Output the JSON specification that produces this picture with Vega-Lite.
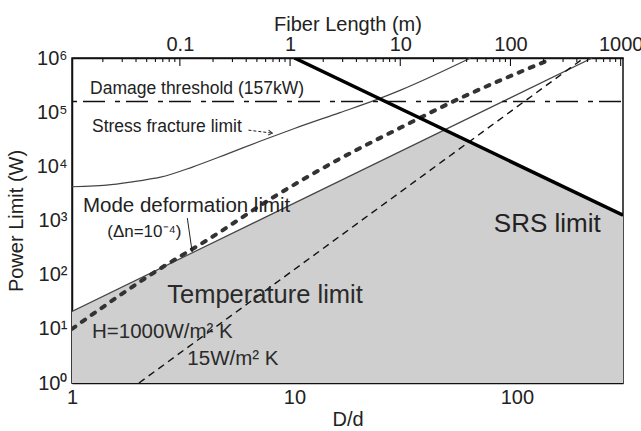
{
  "$schema": "https://vega.github.io/schema/vega-lite/v6.json",
  "width": 551,
  "height": 325,
  "autosize": {"type": "none"},
  "padding": {"left": 72, "top": 58, "right": 18, "bottom": 48},
  "background": "white",
  "config": {
    "font": "Liberation Sans",
    "view": {"stroke": "#111", "strokeWidth": 1.5},
    "axis": {
      "grid": false,
      "ticks": false,
      "tickSize": 0,
      "domainColor": "#111",
      "domainWidth": 1.5,
      "labelFont": "Liberation Sans",
      "labelFontSize": 20,
      "labelColor": "#222",
      "titleFont": "Liberation Sans",
      "titleFontSize": 20,
      "titleFontWeight": "normal",
      "titleColor": "#222",
      "labelFlush": false,
      "labelOverlap": false
    }
  },
  "datasets": {
    "curves": [
      {"s": "shade", "x": 1, "P": 21},
      {"s": "shade", "x": 47.6, "P": 47500},
      {"s": "shade", "x": 300, "P": 1250},
      {"s": "h1000", "x": 1, "P": 21},
      {"s": "h1000", "x": 218, "P": 1000000},
      {"s": "h15", "x": 2, "P": 1},
      {"s": "h15", "x": 200, "P": 1000000},
      {"s": "stress", "x": 1, "P": 4200},
      {"s": "stress", "x": 1.5, "P": 4600},
      {"s": "stress", "x": 2, "P": 5400},
      {"s": "stress", "x": 2.5, "P": 6300},
      {"s": "stress", "x": 3.5, "P": 9800},
      {"s": "stress", "x": 5, "P": 17000},
      {"s": "stress", "x": 7, "P": 29000},
      {"s": "stress", "x": 10, "P": 50000},
      {"s": "stress", "x": 16, "P": 98000},
      {"s": "stress", "x": 23.4, "P": 170000},
      {"s": "stress", "x": 30, "P": 255000},
      {"s": "stress", "x": 62, "P": 1000000},
      {"s": "mode", "x": 1, "P": 10},
      {"s": "mode", "x": 2.51, "P": 132},
      {"s": "mode", "x": 4.17, "P": 468},
      {"s": "mode", "x": 8.04, "P": 2690},
      {"s": "mode", "x": 16.1, "P": 14000},
      {"s": "mode", "x": 30.2, "P": 52500},
      {"s": "mode", "x": 50.1, "P": 148000},
      {"s": "mode", "x": 135, "P": 871000},
      {"s": "damage", "x": 1, "P": 157000},
      {"s": "damage", "x": 300, "P": 157000},
      {"s": "srs", "x": 10, "P": 1000000},
      {"s": "srs", "x": 300, "P": 1250},
      {"s": "arrowS", "x": 6.21, "P": 46600},
      {"s": "arrowS", "x": 7.96, "P": 41000},
      {"s": "arrowM", "x": 3.30, "P": 1107},
      {"s": "arrowM", "x": 3.47, "P": 261}
    ],
    "notes": [
      {"id": "damage", "x": 1.205, "P": 214000, "text": "Damage threshold (157kW)"},
      {"id": "stress", "x": 1.23, "P": 42700, "text": "Stress fracture limit"},
      {"id": "mode", "x": 1.12, "P": 1430, "text": "Mode deformation limit"},
      {"id": "dn", "x": 1.44, "P": 493, "text": "(Δn=10⁻⁴)"},
      {"id": "temp", "x": 2.68, "P": 29.9, "text": "Temperature limit"},
      {"id": "h1000", "x": 1.23, "P": 6.76, "text": "H=1000W/m² K"},
      {"id": "h15", "x": 3.3, "P": 2.15, "text": "15W/m² K"},
      {"id": "srs", "x": 78.8, "P": 614, "text": "SRS limit"}
    ],
    "tips": [
      {"id": "S", "x": 7.96, "P": 41000},
      {"id": "M", "x": 3.47, "P": 261}
    ],
    "xMinor": [{"x": 2}, {"x": 3}, {"x": 4}, {"x": 5}, {"x": 6}, {"x": 7}, {"x": 8}, {"x": 9}, {"x": 20}, {"x": 30}, {"x": 40}, {"x": 50}, {"x": 60}, {"x": 70}, {"x": 80}, {"x": 90}, {"x": 200}],
    "xMajor": [{"x": 10}, {"x": 100}],
    "pMinor": [{"P": 2}, {"P": 3}, {"P": 4}, {"P": 5}, {"P": 6}, {"P": 7}, {"P": 8}, {"P": 9}, {"P": 20}, {"P": 30}, {"P": 40}, {"P": 50}, {"P": 60}, {"P": 70}, {"P": 80}, {"P": 90}, {"P": 200}, {"P": 300}, {"P": 400}, {"P": 500}, {"P": 600}, {"P": 700}, {"P": 800}, {"P": 900}, {"P": 2000}, {"P": 3000}, {"P": 4000}, {"P": 5000}, {"P": 6000}, {"P": 7000}, {"P": 8000}, {"P": 9000}, {"P": 20000}, {"P": 30000}, {"P": 40000}, {"P": 50000}, {"P": 60000}, {"P": 70000}, {"P": 80000}, {"P": 90000}, {"P": 200000}, {"P": 300000}, {"P": 400000}, {"P": 500000}, {"P": 600000}, {"P": 700000}, {"P": 800000}, {"P": 900000}],
    "pMajor": [{"P": 10}, {"P": 100}, {"P": 1000}, {"P": 10000}, {"P": 100000}],
    "lMinor": [{"L": 0.02}, {"L": 0.03}, {"L": 0.04}, {"L": 0.05}, {"L": 0.06}, {"L": 0.07}, {"L": 0.08}, {"L": 0.09}, {"L": 0.2}, {"L": 0.3}, {"L": 0.4}, {"L": 0.5}, {"L": 0.6}, {"L": 0.7}, {"L": 0.8}, {"L": 0.9}, {"L": 2}, {"L": 3}, {"L": 4}, {"L": 5}, {"L": 6}, {"L": 7}, {"L": 8}, {"L": 9}, {"L": 20}, {"L": 30}, {"L": 40}, {"L": 50}, {"L": 60}, {"L": 70}, {"L": 80}, {"L": 90}, {"L": 200}, {"L": 300}, {"L": 400}, {"L": 500}, {"L": 600}, {"L": 700}, {"L": 800}, {"L": 900}],
    "lMajor": [{"L": 0.1}, {"L": 1}, {"L": 10}, {"L": 100}, {"L": 1000}]
  },
  "layer": [
    {
      "encoding": {
        "x": {
          "field": "x", "type": "quantitative",
          "scale": {"type": "log", "domain": [1, 300], "nice": false},
          "axis": {
            "orient": "bottom",
            "title": "D/d",
            "values": [1, 10, 100],
            "format": "~g",
            "labelPadding": 4,
            "titlePadding": 2
          }
        },
        "y": {
          "field": "P", "type": "quantitative",
          "scale": {"type": "log", "domain": [1, 1000000], "nice": false},
          "axis": {
            "orient": "left",
            "title": "Power Limit (W)",
            "values": [1, 10, 100, 1000, 10000, 100000, 1000000],
            "labelExpr": "datum.value == 1 ? '10⁰' : datum.value == 10 ? '10¹' : datum.value == 100 ? '10²' : datum.value == 1000 ? '10³' : datum.value == 10000 ? '10⁴' : datum.value == 100000 ? '10⁵' : '10⁶'",
            "labelPadding": 5,
            "titlePadding": 10
          }
        }
      },
      "layer": [
        {
          "data": {"name": "curves"},
          "transform": [{"filter": "datum.s == 'shade'"}],
          "mark": {"type": "area", "fill": "#cfcfcf", "clip": true},
          "encoding": {"y2": {"datum": 1}}
        },
        {
          "data": {"name": "curves"},
          "transform": [{"filter": "datum.s == 'h1000'"}],
          "mark": {"type": "line", "stroke": "#444", "strokeWidth": 1.2, "clip": true},
          "encoding": {}
        },
        {
          "data": {"name": "curves"},
          "transform": [{"filter": "datum.s == 'h15'"}],
          "mark": {"type": "line", "stroke": "#111", "strokeWidth": 1.4, "strokeDash": [7, 5], "clip": true},
          "encoding": {}
        },
        {
          "data": {"name": "curves"},
          "transform": [{"filter": "datum.s == 'stress'"}],
          "mark": {"type": "line", "stroke": "#444", "strokeWidth": 1.2, "interpolate": "monotone", "clip": true},
          "encoding": {}
        },
        {
          "data": {"name": "curves"},
          "transform": [{"filter": "datum.s == 'mode'"}],
          "mark": {"type": "line", "stroke": "#333", "strokeWidth": 4, "strokeDash": [4, 8], "strokeCap": "round", "interpolate": "monotone", "clip": true},
          "encoding": {}
        },
        {
          "data": {"name": "curves"},
          "transform": [{"filter": "datum.s == 'damage'"}],
          "mark": {"type": "line", "stroke": "#111", "strokeWidth": 1.4, "strokeDash": [5, 6, 22, 10], "clip": true},
          "encoding": {}
        },
        {
          "data": {"name": "curves"},
          "transform": [{"filter": "datum.s == 'srs'"}],
          "mark": {"type": "line", "stroke": "#000", "strokeWidth": 3.5, "clip": true},
          "encoding": {}
        },
        {
          "data": {"name": "curves"},
          "transform": [{"filter": "datum.s == 'arrowS'"}],
          "mark": {"type": "line", "stroke": "#222", "strokeWidth": 1, "strokeDash": [3, 2]},
          "encoding": {}
        },
        {
          "data": {"name": "curves"},
          "transform": [{"filter": "datum.s == 'arrowM'"}],
          "mark": {"type": "line", "stroke": "#222", "strokeWidth": 1},
          "encoding": {}
        },
        {
          "data": {"name": "tips"},
          "transform": [{"filter": "datum.id == 'S'"}],
          "mark": {"type": "point", "shape": "M-1,-0.6L0,0L-1,0.6", "filled": false, "stroke": "#222", "strokeWidth": 1, "size": 70, "angle": 7, "opacity": 1},
          "encoding": {}
        },
        {
          "data": {"name": "tips"},
          "transform": [{"filter": "datum.id == 'M'"}],
          "mark": {"type": "point", "shape": "M0,0L-1,-0.45L-1,0.45Z", "filled": true, "fill": "#222", "size": 70, "angle": 82, "opacity": 1},
          "encoding": {}
        },
        {
          "data": {"name": "notes"},
          "transform": [{"filter": "datum.id == 'damage'"}],
          "mark": {"type": "text", "align": "left", "baseline": "alphabetic", "fontSize": 17.5, "fill": "#222"},
          "encoding": {"text": {"field": "text", "type": "nominal"}}
        },
        {
          "data": {"name": "notes"},
          "transform": [{"filter": "datum.id == 'stress'"}],
          "mark": {"type": "text", "align": "left", "baseline": "alphabetic", "fontSize": 17.5, "fill": "#222"},
          "encoding": {"text": {"field": "text", "type": "nominal"}}
        },
        {
          "data": {"name": "notes"},
          "transform": [{"filter": "datum.id == 'mode'"}],
          "mark": {"type": "text", "align": "left", "baseline": "alphabetic", "fontSize": 20.5, "fill": "#222"},
          "encoding": {"text": {"field": "text", "type": "nominal"}}
        },
        {
          "data": {"name": "notes"},
          "transform": [{"filter": "datum.id == 'dn'"}],
          "mark": {"type": "text", "align": "left", "baseline": "alphabetic", "fontSize": 17, "fill": "#222"},
          "encoding": {"text": {"field": "text", "type": "nominal"}}
        },
        {
          "data": {"name": "notes"},
          "transform": [{"filter": "datum.id == 'temp'"}],
          "mark": {"type": "text", "align": "left", "baseline": "alphabetic", "fontSize": 25.5, "fill": "#2a2a2a"},
          "encoding": {"text": {"field": "text", "type": "nominal"}}
        },
        {
          "data": {"name": "notes"},
          "transform": [{"filter": "datum.id == 'h1000' || datum.id == 'h15'"}],
          "mark": {"type": "text", "align": "left", "baseline": "alphabetic", "fontSize": 20.5, "fill": "#2a2a2a"},
          "encoding": {"text": {"field": "text", "type": "nominal"}}
        },
        {
          "data": {"name": "notes"},
          "transform": [{"filter": "datum.id == 'srs'"}],
          "mark": {"type": "text", "align": "left", "baseline": "alphabetic", "fontSize": 26, "fill": "#222"},
          "encoding": {"text": {"field": "text", "type": "nominal"}}
        },
        {
          "data": {"name": "xMinor"},
          "mark": {"type": "tick", "orient": "vertical", "size": 4, "thickness": 1.1, "color": "#111", "opacity": 1, "yOffset": -2},
          "encoding": {"y": {"datum": 1}}
        },
        {
          "data": {"name": "xMajor"},
          "mark": {"type": "tick", "orient": "vertical", "size": 8, "thickness": 1.1, "color": "#111", "opacity": 1, "yOffset": -4},
          "encoding": {"y": {"datum": 1}}
        },
        {
          "data": {"name": "pMinor"},
          "mark": {"type": "tick", "orient": "horizontal", "size": 4, "thickness": 1.1, "color": "#111", "opacity": 1, "xOffset": 2},
          "encoding": {"x": {"datum": 1}}
        },
        {
          "data": {"name": "pMajor"},
          "mark": {"type": "tick", "orient": "horizontal", "size": 8, "thickness": 1.1, "color": "#111", "opacity": 1, "xOffset": 4},
          "encoding": {"x": {"datum": 1}}
        },
        {
          "data": {"name": "pMinor"},
          "mark": {"type": "tick", "orient": "horizontal", "size": 4, "thickness": 1.1, "color": "#111", "opacity": 1, "xOffset": -2},
          "encoding": {"x": {"datum": 300}}
        },
        {
          "data": {"name": "pMajor"},
          "mark": {"type": "tick", "orient": "horizontal", "size": 8, "thickness": 1.1, "color": "#111", "opacity": 1, "xOffset": -4},
          "encoding": {"x": {"datum": 300}}
        }
      ]
    },
    {
      "encoding": {
        "x": {
          "field": "L", "type": "quantitative",
          "scale": {"type": "log", "domain": [0.0105, 1050], "nice": false},
          "axis": {
            "orient": "top",
            "title": "Fiber Length (m)",
            "values": [0.1, 1, 10, 100, 1000],
            "format": "~g",
            "labelPadding": 4,
            "titlePadding": 0
          }
        },
        "y": {
          "datum": 1000000, "type": "quantitative",
          "scale": {"type": "log", "domain": [1, 1000000], "nice": false},
          "axis": null
        }
      },
      "layer": [
        {
          "data": {"name": "lMinor"},
          "mark": {"type": "tick", "orient": "vertical", "size": 4, "thickness": 1.1, "color": "#111", "opacity": 1, "yOffset": 2}
        },
        {
          "data": {"name": "lMajor"},
          "mark": {"type": "tick", "orient": "vertical", "size": 8, "thickness": 1.1, "color": "#111", "opacity": 1, "yOffset": 4}
        }
      ]
    }
  ],
  "resolve": {
    "scale": {"x": "independent", "y": "independent"},
    "axis": {"x": "independent", "y": "independent"}
  }
}
